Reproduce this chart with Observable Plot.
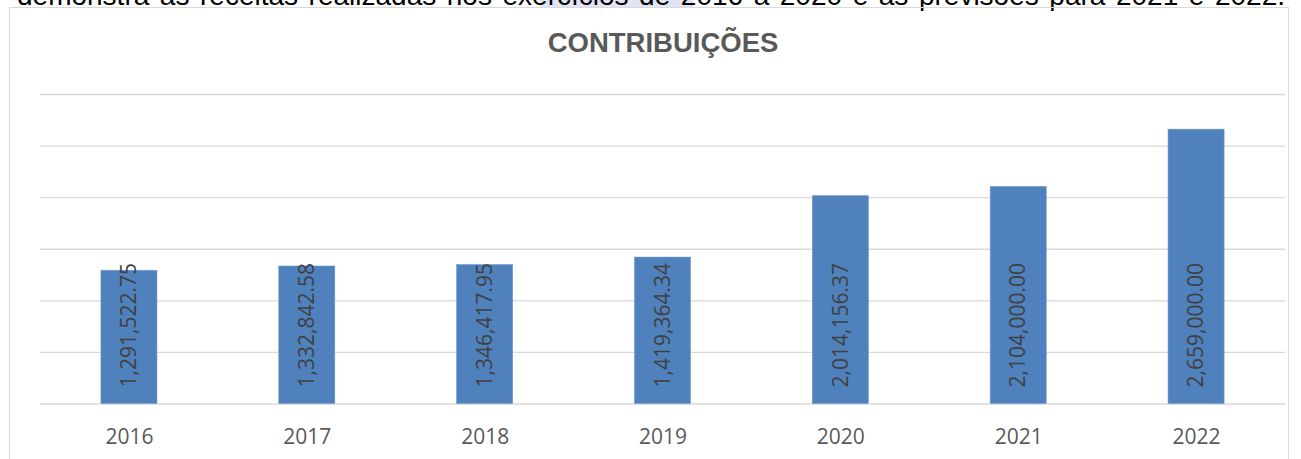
<!DOCTYPE html>
<html>
<head>
<meta charset="utf-8">
<script src="https://cdn.jsdelivr.net/npm/d3@7"></script>
<script src="https://cdn.jsdelivr.net/npm/@observablehq/plot@0.6"></script>
<style>
  html, body { margin: 0; padding: 0; background: #fff; overflow: hidden; }
  #wrap { position: relative; width: 1301px; height: 459px; overflow: hidden; background: #fff; }
  .hl { position: absolute; left: 540px; top: 0; width: 153px; height: 7px; background: #e3e3f6; }
  .lead { position: absolute; left: 17px; top: -18px; width: 1268px; font: 28px/28px "Liberation Sans", Arial, sans-serif; color: #000; text-align: justify; text-align-last: justify; white-space: normal; }
  .frame { position: absolute; left: 9px; top: 7px; width: 1280px; height: 480px; border: 1px solid #d9d9d9; box-sizing: border-box; background: transparent; }
  .title { position: absolute; left: 0; top: 29px; width: 1326px; text-align: center; font: bold 27.5px/27px "Liberation Sans", Arial, sans-serif; color: #595959; }
  #chart { position: absolute; left: 0; top: 0; }
</style>
</head>
<body>
<div id="wrap">
  <div class="hl"></div>
  <div class="lead">demonstra as receitas realizadas nos exercícios de 2016 a 2020 e as previsões para 2021 e 2022.</div>
  <div class="frame"></div>
  <div class="title">CONTRIBUIÇÕES</div>
  <div id="chart"></div>
</div>
<script>
const years = ["2016", "2017", "2018", "2019", "2020", "2021", "2022"];
const values = [1291522.75, 1332842.58, 1346417.95, 1419364.34, 2014156.37, 2104000.00, 2659000.00];
const gridValues = [0, 500000, 1000000, 1500000, 2000000, 2500000, 3000000];

const data = years.map((y, i) => ({year: y, value: values[i]}));
const fmt = d3.format(",.2f");

const plot = Plot.plot({
  width: 1301,
  height: 459,
  marginTop: 94,
  marginBottom: 55.5,
  marginLeft: 40,
  marginRight: 16,
  style: {fontFamily: "'Open Sans', sans-serif", fontSize: "21px", color: "#595959", background: "transparent", overflow: "visible"},
  x: {domain: years, paddingInner: 0.685, paddingOuter: 0.3425, round: false, axis: null, label: null},
  y: {domain: [0, 3000000], axis: null},
  marks: [
    Plot.ruleY(gridValues, {stroke: "#d9d9d9", strokeWidth: 1.4}),
    Plot.barY(data, {x: "year", y: "value", fill: "#4f81bd", stroke: "#6f97cb", strokeWidth: 0.6}),
    Plot.text(data, {x: "year", y: () => 0, text: d => fmt(d.value), rotate: -90, textAnchor: "start", lineAnchor: "middle", dy: -16.5, fill: "#404040", fontSize: 21}),
    Plot.axisX({tickSize: 0, tickPadding: 25, fill: "#595959", fontSize: 21, label: null})
  ]
});
document.getElementById("chart").appendChild(plot);
</script>
</body>
</html>
